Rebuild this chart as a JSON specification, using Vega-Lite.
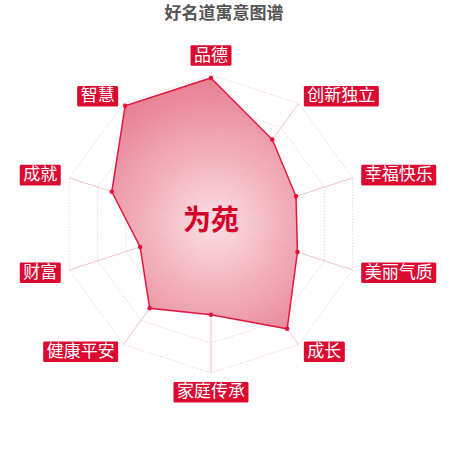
{
  "$schema": "https://vega.github.io/schema/vega-lite/v6.json",
  "width": 450,
  "height": 450,
  "autosize": {"type": "none"},
  "padding": 0,
  "background": "white",
  "datasets": {
    "scores": [
      {"i": 0, "name": "品德", "value": 98},
      {"i": 1, "name": "创新独立", "value": 70},
      {"i": 2, "name": "幸福快乐", "value": 60},
      {"i": 3, "name": "美丽气质", "value": 61},
      {"i": 4, "name": "成长", "value": 87},
      {"i": 5, "name": "家庭传承", "value": 61},
      {"i": 6, "name": "健康平安", "value": 70},
      {"i": 7, "name": "财富", "value": 50},
      {"i": 8, "name": "成就", "value": 70},
      {"i": 9, "name": "智慧", "value": 98}
    ],
    "grid": [
      {"level": 20, "i": [0, 1, 2, 3, 4, 5, 6, 7, 8, 9]},
      {"level": 40, "i": [0, 1, 2, 3, 4, 5, 6, 7, 8, 9]},
      {"level": 60, "i": [0, 1, 2, 3, 4, 5, 6, 7, 8, 9]},
      {"level": 80, "i": [0, 1, 2, 3, 4, 5, 6, 7, 8, 9]},
      {"level": 100, "i": [0, 1, 2, 3, 4, 5, 6, 7, 8, 9]}
    ],
    "texts": [
      {"role": "title", "name": "好名道寓意图谱", "px": 8.7, "py": 140.6},
      {"role": "center", "name": "为苑", "px": 0, "py": 1.3}
    ]
  },
  "config": {
    "view": {"stroke": null},
    "text": {"font": "Noto Sans CJK SC"}
  },
  "layer": [
    {
      "data": {"name": "grid"},
      "transform": [
        {"flatten": ["i"]},
        {"calculate": "datum.level * sin(datum.i * PI / 5)", "as": "gx"},
        {"calculate": "datum.level * cos(datum.i * PI / 5)", "as": "gy"}
      ],
      "mark": {
        "type": "line",
        "interpolate": "linear-closed",
        "stroke": "#efbcc6",
        "strokeWidth": 1,
        "strokeDash": [1, 2]
      },
      "encoding": {
        "x": {"field": "gx", "type": "quantitative", "scale": {"domain": [-141.6, 160.4], "nice": false, "zero": false}, "axis": null},
        "y": {"field": "gy", "type": "quantitative", "scale": {"domain": [-151.7, 150.3], "nice": false, "zero": false}, "axis": null},
        "detail": {"field": "level", "type": "nominal"},
        "order": {"field": "i", "type": "quantitative"}
      }
    },
    {
      "data": {"name": "scores"},
      "transform": [
        {"calculate": "0", "as": "zero"},
        {"calculate": "100 * sin(datum.i * PI / 5)", "as": "ex"},
        {"calculate": "100 * cos(datum.i * PI / 5)", "as": "ey"}
      ],
      "mark": {"type": "rule", "stroke": "#f3c3cc", "strokeWidth": 1},
      "encoding": {
        "x": {"field": "zero", "type": "quantitative", "scale": {"domain": [-141.6, 160.4], "nice": false, "zero": false}, "axis": null},
        "y": {"field": "zero", "type": "quantitative", "scale": {"domain": [-151.7, 150.3], "nice": false, "zero": false}, "axis": null},
        "x2": {"field": "ex"},
        "y2": {"field": "ey"}
      }
    },
    {
      "data": {"name": "scores"},
      "transform": [
        {"calculate": "datum.value * sin(datum.i * PI / 5)", "as": "px"},
        {"calculate": "datum.value * cos(datum.i * PI / 5)", "as": "py"}
      ],
      "mark": {
        "type": "line",
        "interpolate": "linear-closed",
        "stroke": "#e4173d",
        "strokeWidth": 1.5,
        "fillOpacity": 0.92,
        "fill": {
          "gradient": "radial",
          "x1": 0.535, "y1": 0.58, "r1": 0,
          "x2": 0.535, "y2": 0.58, "r2": 0.65,
          "stops": [
            {"offset": 0, "color": "#f9dde3"},
            {"offset": 0.4, "color": "#f1adb9"},
            {"offset": 1, "color": "#e4687f"}
          ]
        }
      },
      "encoding": {
        "x": {"field": "px", "type": "quantitative", "scale": {"domain": [-141.6, 160.4], "nice": false, "zero": false}, "axis": null},
        "y": {"field": "py", "type": "quantitative", "scale": {"domain": [-151.7, 150.3], "nice": false, "zero": false}, "axis": null},
        "order": {"field": "i", "type": "quantitative"}
      }
    },
    {
      "data": {"name": "scores"},
      "transform": [
        {"calculate": "datum.value * sin(datum.i * PI / 5)", "as": "px"},
        {"calculate": "datum.value * cos(datum.i * PI / 5)", "as": "py"}
      ],
      "mark": {"type": "circle", "size": 20, "color": "#e0123a", "opacity": 1},
      "encoding": {
        "x": {"field": "px", "type": "quantitative", "scale": {"domain": [-141.6, 160.4], "nice": false, "zero": false}, "axis": null},
        "y": {"field": "py", "type": "quantitative", "scale": {"domain": [-151.7, 150.3], "nice": false, "zero": false}, "axis": null}
      }
    },
    {
      "data": {"name": "scores"},
      "transform": [
        {"calculate": "datum.i == 0 || datum.i == 5 ? 0 : (datum.i < 5 ? 1 : -1)", "as": "side"},
        {"calculate": "datum.side == 0 ? 113 : 106", "as": "lr"},
        {"calculate": "datum.lr * sin(datum.i * PI / 5)", "as": "lx"},
        {"calculate": "datum.lr * cos(datum.i * PI / 5)", "as": "ly"},
        {"calculate": "(length(datum.name) * 17 + 7) / 1.49", "as": "bw"},
        {"calculate": "datum.side == 1 ? datum.lx : (datum.side == -1 ? datum.lx - datum.bw : datum.lx - datum.bw / 2)", "as": "bx1"},
        {"calculate": "datum.bx1 + datum.bw", "as": "bx2"},
        {"calculate": "datum.bx1 + datum.bw / 2", "as": "cx"},
        {"calculate": "datum.ly - 6.9", "as": "by1"},
        {"calculate": "datum.ly + 6.9", "as": "by2"}
      ],
      "layer": [
        {
          "mark": {"type": "rect", "fill": "#dc0a31", "cornerRadius": 1.5},
          "encoding": {
            "x": {"field": "bx1", "type": "quantitative", "scale": {"domain": [-141.6, 160.4], "nice": false, "zero": false}, "axis": null},
            "x2": {"field": "bx2"},
            "y": {"field": "by1", "type": "quantitative", "scale": {"domain": [-151.7, 150.3], "nice": false, "zero": false}, "axis": null},
            "y2": {"field": "by2"}
          }
        },
        {
          "mark": {"type": "text", "color": "white", "fontSize": 17, "align": "center", "baseline": "middle"},
          "encoding": {
            "x": {"field": "cx", "type": "quantitative", "scale": {"domain": [-141.6, 160.4], "nice": false, "zero": false}, "axis": null},
            "y": {"field": "ly", "type": "quantitative", "scale": {"domain": [-151.7, 150.3], "nice": false, "zero": false}, "axis": null},
            "text": {"field": "name", "type": "nominal"}
          }
        }
      ]
    },
    {
      "data": {"name": "texts"},
      "transform": [{"filter": "datum.role == 'title'"}],
      "mark": {"type": "text", "color": "#555555", "fontSize": 17, "fontWeight": "bold", "align": "center", "baseline": "middle"},
      "encoding": {
        "x": {"field": "px", "type": "quantitative", "scale": {"domain": [-141.6, 160.4], "nice": false, "zero": false}, "axis": null},
        "y": {"field": "py", "type": "quantitative", "scale": {"domain": [-151.7, 150.3], "nice": false, "zero": false}, "axis": null},
        "text": {"field": "name", "type": "nominal"}
      }
    },
    {
      "data": {"name": "texts"},
      "transform": [{"filter": "datum.role == 'center'"}],
      "mark": {"type": "text", "color": "#d4002a", "fontSize": 28, "fontWeight": "bold", "align": "center", "baseline": "middle"},
      "encoding": {
        "x": {"field": "px", "type": "quantitative", "scale": {"domain": [-141.6, 160.4], "nice": false, "zero": false}, "axis": null},
        "y": {"field": "py", "type": "quantitative", "scale": {"domain": [-151.7, 150.3], "nice": false, "zero": false}, "axis": null},
        "text": {"field": "name", "type": "nominal"}
      }
    }
  ]
}
